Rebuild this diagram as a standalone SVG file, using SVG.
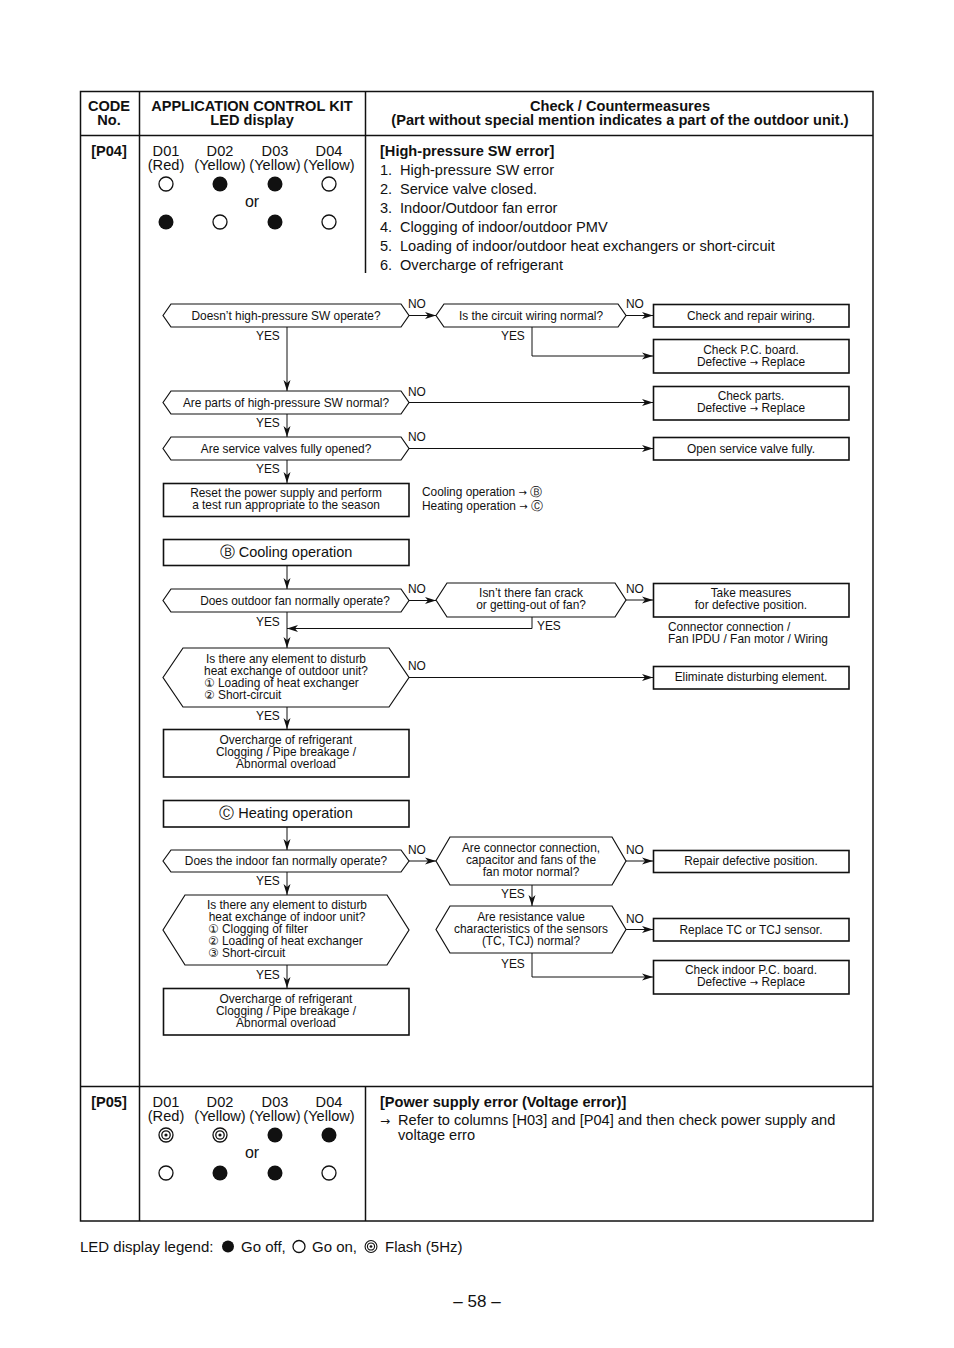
<svg xmlns="http://www.w3.org/2000/svg" width="954" height="1348" viewBox="0 0 954 1348">
<style>
text{font-family:"Liberation Sans","DejaVu Sans",Arial,sans-serif;fill:#111}
.t14{font-size:14.6px}
.b14{font-size:14.6px;font-weight:bold}
.f{font-size:11.9px}
.c{text-anchor:middle}
.a{font-family:"DejaVu Sans",sans-serif;font-size:10px}
.tbl{fill:none;stroke:#111;stroke-width:1.5}
.box{fill:#fff;stroke:#111;stroke-width:1.6}
.hex{fill:#fff;stroke:#111;stroke-width:1.2}
.ln{fill:none;stroke:#111;stroke-width:1}
.on{fill:#fff;stroke:#111;stroke-width:1.3}
.off{fill:#111}
</style>
<defs>
<marker id="ar" markerUnits="userSpaceOnUse" markerWidth="12" markerHeight="8" refX="11" refY="4" orient="auto">
<path d="M0,0.5 L11,4 L0,7.5 L3,4 z" fill="#111"/>
</marker>
<g id="flash"><circle r="7" fill="#fff" stroke="#111" stroke-width="1.3"/><circle r="4.2" fill="#fff" stroke="#111" stroke-width="1.3"/><circle r="1.6" fill="#111"/></g>
</defs>
<rect width="954" height="1348" fill="#fff"/>

<!-- table -->
<g id="table">
<rect class="tbl" x="80.5" y="91.5" width="792.5" height="1129.5"/>
<line class="tbl" x1="80" y1="135.5" x2="873" y2="135.5"/>
<line class="tbl" x1="139.5" y1="91" x2="139.5" y2="1221"/>
<line class="tbl" x1="365.5" y1="91" x2="365.5" y2="273"/>
<line class="tbl" x1="80" y1="1086.5" x2="873" y2="1086.5"/>
<line class="tbl" x1="365.5" y1="1086" x2="365.5" y2="1221"/>
<text class="b14 c" x="109" y="111">CODE</text>
<text class="b14 c" x="109" y="125">No.</text>
<text class="b14 c" x="252" y="111">APPLICATION CONTROL KIT</text>
<text class="b14 c" x="252" y="125">LED display</text>
<text class="b14 c" x="620" y="111">Check / Countermeasures</text>
<text class="b14 c" x="620" y="125">(Part without special mention indicates a part of the outdoor unit.)</text>
</g>

<g id="p04-code">
<text class="b14 c" x="109" y="156">[P04]</text>
<text class="t14 c" x="166" y="156">D01</text>
<text class="t14 c" x="220" y="156">D02</text>
<text class="t14 c" x="275" y="156">D03</text>
<text class="t14 c" x="329" y="156">D04</text>
<text class="t14 c" x="166" y="170">(Red)</text>
<text class="t14 c" x="220" y="170">(Yellow)</text>
<text class="t14 c" x="275" y="170">(Yellow)</text>
<text class="t14 c" x="329" y="170">(Yellow)</text>
<circle class="on" cx="166" cy="184" r="7"/>
<circle class="off" cx="220" cy="184" r="7.5"/>
<circle class="off" cx="275" cy="184" r="7.5"/>
<circle class="on" cx="329" cy="184" r="7"/>
<text class="c" x="252" y="207" style="font-size:16px">or</text>
<circle class="off" cx="166" cy="222" r="7.5"/>
<circle class="on" cx="220" cy="222" r="7"/>
<circle class="off" cx="275" cy="222" r="7.5"/>
<circle class="on" cx="329" cy="222" r="7"/>
</g>

<g id="p04-text">
<text class="b14" x="380" y="156">[High-pressure SW error]</text>
<text class="t14" x="380" y="175">1.</text><text class="t14" x="400" y="175">High-pressure SW error</text>
<text class="t14" x="380" y="194">2.</text><text class="t14" x="400" y="194">Service valve closed.</text>
<text class="t14" x="380" y="213">3.</text><text class="t14" x="400" y="213">Indoor/Outdoor fan error</text>
<text class="t14" x="380" y="232">4.</text><text class="t14" x="400" y="232">Clogging of indoor/outdoor PMV</text>
<text class="t14" x="380" y="251">5.</text><text class="t14" x="400" y="251">Loading of indoor/outdoor heat exchangers or short-circuit</text>
<text class="t14" x="380" y="270">6.</text><text class="t14" x="400" y="270">Overcharge of refrigerant</text>
</g>

<!-- connectors -->
<g id="connectors">
<line class="ln" x1="409" y1="315.5" x2="436" y2="315.5" marker-end="url(#ar)"/>
<line class="ln" x1="626" y1="315.5" x2="653" y2="315.5" marker-end="url(#ar)"/>
<polyline class="ln" points="532,327 532,356 653,356" marker-end="url(#ar)"/>
<line class="ln" x1="287" y1="327" x2="287" y2="391" marker-end="url(#ar)"/>
<line class="ln" x1="409" y1="402.5" x2="653" y2="402.5" marker-end="url(#ar)"/>
<line class="ln" x1="287" y1="414" x2="287" y2="437" marker-end="url(#ar)"/>
<line class="ln" x1="409" y1="448.5" x2="653" y2="448.5" marker-end="url(#ar)"/>
<line class="ln" x1="287" y1="460" x2="287" y2="483" marker-end="url(#ar)"/>

<line class="ln" x1="287" y1="565" x2="287" y2="589" marker-end="url(#ar)"/>
<line class="ln" x1="409" y1="600.5" x2="436" y2="600.5" marker-end="url(#ar)"/>
<line class="ln" x1="626" y1="600" x2="653" y2="600" marker-end="url(#ar)"/>
<polyline class="ln" points="532,617 532,628.5 287,628.5" marker-end="url(#ar)"/>
<line class="ln" x1="287" y1="612" x2="287" y2="648" marker-end="url(#ar)"/>
<line class="ln" x1="409" y1="677.5" x2="653" y2="677.5" marker-end="url(#ar)"/>
<line class="ln" x1="287" y1="707" x2="287" y2="729" marker-end="url(#ar)"/>

<line class="ln" x1="287" y1="827" x2="287" y2="850" marker-end="url(#ar)"/>
<line class="ln" x1="409" y1="861" x2="436" y2="861" marker-end="url(#ar)"/>
<line class="ln" x1="626" y1="861" x2="653" y2="861" marker-end="url(#ar)"/>
<line class="ln" x1="532" y1="885" x2="532" y2="906" marker-end="url(#ar)"/>
<line class="ln" x1="626" y1="929.5" x2="653" y2="929.5" marker-end="url(#ar)"/>
<polyline class="ln" points="532,953 532,977 653,977" marker-end="url(#ar)"/>
<line class="ln" x1="287" y1="872" x2="287" y2="895" marker-end="url(#ar)"/>
<line class="ln" x1="287" y1="965" x2="287" y2="988" marker-end="url(#ar)"/>
</g>

<g id="labels">
<text x="408" y="308" class="f">NO</text>
<text x="626" y="308" class="f">NO</text>
<text x="256" y="340" class="f">YES</text>
<text x="501" y="340" class="f">YES</text>
<text x="408" y="396" class="f">NO</text>
<text x="256" y="427" class="f">YES</text>
<text x="408" y="441" class="f">NO</text>
<text x="256" y="473" class="f">YES</text>
<text x="408" y="593" class="f">NO</text>
<text x="626" y="593" class="f">NO</text>
<text x="256" y="626" class="f">YES</text>
<text x="537" y="630" class="f">YES</text>
<text x="408" y="670" class="f">NO</text>
<text x="256" y="720" class="f">YES</text>
<text x="408" y="854" class="f">NO</text>
<text x="626" y="854" class="f">NO</text>
<text x="256" y="885" class="f">YES</text>
<text x="501" y="898" class="f">YES</text>
<text x="626" y="923" class="f">NO</text>
<text x="501" y="968" class="f">YES</text>
<text x="256" y="979" class="f">YES</text>
</g>

<!-- nodes -->
<g id="q1"><polygon class="hex" points="163,315.5 171,304 401,304 409,315.5 401,327 171,327"/><text class="f c" x="286" y="319.5">Doesn’t high-pressure SW operate?</text></g>
<g id="q2"><polygon class="hex" points="436,315.5 444,304 618,304 626,315.5 618,327 444,327"/><text class="f c" x="531" y="319.5">Is the circuit wiring normal?</text></g>
<g id="r1"><rect class="box" x="653.5" y="304.5" width="195.5" height="22.5"/><text class="f c" x="751" y="319.5">Check and repair wiring.</text></g>
<g id="r2"><rect class="box" x="653.5" y="339.5" width="195.5" height="33.5"/><text class="f c" x="751" y="354">Check P.C. board.</text><text class="f c" x="751" y="366">Defective <tspan class="a">→</tspan> Replace</text></g>
<g id="q3"><polygon class="hex" points="163,402.5 171,391 401,391 409,402.5 401,414 171,414"/><text class="f c" x="286" y="406.5">Are parts of high-pressure SW normal?</text></g>
<g id="r3"><rect class="box" x="653.5" y="386.5" width="195.5" height="33.5"/><text class="f c" x="751" y="400">Check parts.</text><text class="f c" x="751" y="412">Defective <tspan class="a">→</tspan> Replace</text></g>
<g id="q4"><polygon class="hex" points="163,448.5 171,437 401,437 409,448.5 401,460 171,460"/><text class="f c" x="286" y="452.5">Are service valves fully opened?</text></g>
<g id="r4"><rect class="box" x="653.5" y="437.5" width="195.5" height="22.5"/><text class="f c" x="751" y="452.5">Open service valve fully.</text></g>
<g id="r5"><rect class="box" x="163.5" y="483.5" width="245.5" height="33"/><text class="f c" x="286" y="497">Reset the power supply and  perform</text><text class="f c" x="286" y="509">a test run appropriate to the season</text></g>
<g id="note1"><text class="f" x="422" y="496">Cooling operation <tspan class="a">→</tspan> Ⓑ</text><text class="f" x="422" y="510">Heating operation <tspan class="a">→</tspan> Ⓒ</text></g>

<g id="b-start"><rect class="box" x="163.5" y="539.5" width="245.5" height="26"/><text class="c" x="286" y="557" style="font-size:14.5px">Ⓑ  Cooling operation</text></g>
<g id="q5"><polygon class="hex" points="163,600.5 171,589 401,589 409,600.5 401,612 171,612"/><text class="f c" x="295" y="604.5">Does outdoor fan normally operate?</text></g>
<g id="q6"><polygon class="hex" points="436,600 447,583 615,583 626,600 615,617 447,617"/><text class="f c" x="531" y="597">Isn’t there fan crack</text><text class="f c" x="531" y="609">or getting-out of fan?</text></g>
<g id="r6"><rect class="box" x="653.5" y="583.5" width="195.5" height="33.5"/><text class="f c" x="751" y="597">Take measures</text><text class="f c" x="751" y="609">for defective position.</text></g>
<g id="note2"><text class="f" x="668" y="631">Connector connection /</text><text class="f" x="668" y="643">Fan IPDU / Fan motor / Wiring</text></g>
<g id="q7"><polygon class="hex" points="163,677.5 183,648 389,648 409,677.5 389,707 183,707"/><text class="f c" x="286" y="663">Is there any element to disturb</text><text class="f c" x="286" y="675">heat exchange of outdoor unit?</text><text class="f" x="204" y="687">① Loading of heat exchanger</text><text class="f" x="204" y="699">② Short-circuit</text></g>
<g id="r7"><rect class="box" x="653.5" y="666.5" width="195.5" height="22.5"/><text class="f c" x="751" y="681">Eliminate disturbing element.</text></g>
<g id="r8"><rect class="box" x="163.5" y="729.5" width="245.5" height="47.5"/><text class="f c" x="286" y="744">Overcharge of refrigerant</text><text class="f c" x="286" y="756">Clogging / Pipe breakage /</text><text class="f c" x="286" y="768">Abnormal overload</text></g>

<g id="c-start"><rect class="box" x="163.5" y="800.5" width="245.5" height="26.5"/><text class="c" x="286" y="818" style="font-size:14.5px">Ⓒ  Heating operation</text></g>
<g id="q8"><polygon class="hex" points="163,861 171,850 401,850 409,861 401,872 171,872"/><text class="f c" x="286" y="865">Does the indoor fan normally operate?</text></g>
<g id="q9"><polygon class="hex" points="436,861 450,837 612,837 626,861 612,885 450,885"/><text class="f c" x="531" y="852">Are connector connection,</text><text class="f c" x="531" y="864">capacitor and fans of the</text><text class="f c" x="531" y="876">fan motor normal?</text></g>
<g id="r9"><rect class="box" x="653.5" y="850.5" width="195.5" height="22"/><text class="f c" x="751" y="865">Repair defective position.</text></g>
<g id="q10"><polygon class="hex" points="436,929.5 450,906 612,906 626,929.5 612,953 450,953"/><text class="f c" x="531" y="921">Are resistance value</text><text class="f c" x="531" y="933">characteristics of the sensors</text><text class="f c" x="531" y="945">(TC, TCJ) normal?</text></g>
<g id="r10"><rect class="box" x="653.5" y="918.5" width="195.5" height="22.5"/><text class="f c" x="751" y="933.5">Replace TC or TCJ sensor.</text></g>
<g id="r11"><rect class="box" x="653.5" y="960.5" width="195.5" height="33.5"/><text class="f c" x="751" y="974">Check indoor P.C. board.</text><text class="f c" x="751" y="986">Defective <tspan class="a">→</tspan> Replace</text></g>
<g id="q11"><polygon class="hex" points="163,930 185,895 387,895 409,930 387,965 185,965"/><text class="f c" x="287" y="909">Is there any element to disturb</text><text class="f c" x="287" y="921">heat exchange of indoor unit?</text><text class="f" x="208" y="933">① Clogging of filter</text><text class="f" x="208" y="945">② Loading of heat exchanger</text><text class="f" x="208" y="957">③ Short-circuit</text></g>
<g id="r12"><rect class="box" x="163.5" y="988.5" width="245.5" height="46.5"/><text class="f c" x="286" y="1003">Overcharge of refrigerant</text><text class="f c" x="286" y="1015">Clogging / Pipe breakage /</text><text class="f c" x="286" y="1027">Abnormal overload</text></g>

<g id="p05-code">
<text class="b14 c" x="109" y="1107">[P05]</text>
<text class="t14 c" x="166" y="1107">D01</text>
<text class="t14 c" x="220" y="1107">D02</text>
<text class="t14 c" x="275" y="1107">D03</text>
<text class="t14 c" x="329" y="1107">D04</text>
<text class="t14 c" x="166" y="1121">(Red)</text>
<text class="t14 c" x="220" y="1121">(Yellow)</text>
<text class="t14 c" x="275" y="1121">(Yellow)</text>
<text class="t14 c" x="329" y="1121">(Yellow)</text>
<use href="#flash" x="166" y="1135"/>
<use href="#flash" x="220" y="1135"/>
<circle class="off" cx="275" cy="1135" r="7.5"/>
<circle class="off" cx="329" cy="1135" r="7.5"/>
<text class="c" x="252" y="1158" style="font-size:16px">or</text>
<circle class="on" cx="166" cy="1173" r="7"/>
<circle class="off" cx="220" cy="1173" r="7.5"/>
<circle class="off" cx="275" cy="1173" r="7.5"/>
<circle class="on" cx="329" cy="1173" r="7"/>
</g>
<g id="p05-text">
<text class="b14" x="380" y="1107">[Power supply error (Voltage error)]</text>
<text class="t14" x="380" y="1125"><tspan style="font-family:'DejaVu Sans',sans-serif;font-size:12px">→</tspan><tspan x="398">Refer to columns [H03] and [P04] and then check power supply and</tspan></text>
<text class="t14" x="398" y="1140">voltage erro</text>
</g>

<g id="legend">
<text x="80" y="1252" style="font-size:15px">LED display legend:</text>
<circle class="off" cx="228" cy="1246.5" r="6"/>
<text x="241" y="1252" style="font-size:15px">Go off,</text>
<circle class="on" cx="299" cy="1246.5" r="6"/>
<text x="312" y="1252" style="font-size:15px">Go on,</text>
<use href="#flash" transform="translate(371,1246.5) scale(0.85)"/>
<text x="385" y="1252" style="font-size:15px">Flash (5Hz)</text>
</g>
<text class="c" x="477" y="1307" style="font-size:17px">– 58 –</text>
</svg>
